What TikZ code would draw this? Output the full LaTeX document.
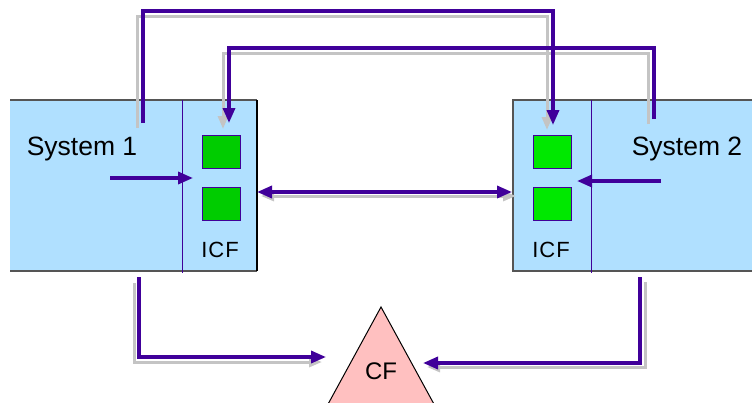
\documentclass[tikz,border=0pt]{standalone}
\usepackage{fontspec}
\setmainfont{Liberation Sans}
\usetikzlibrary{arrows.meta}
\definecolor{sysblue}{HTML}{B0E0FF}
\definecolor{arrowpurple}{HTML}{40009A}
\definecolor{shadowgray}{HTML}{C4C4C4}
\definecolor{greenL}{HTML}{00CC00}
\definecolor{greenR}{HTML}{00E800}
\definecolor{cfpink}{HTML}{FFC0C0}
\definecolor{edgegray}{HTML}{555555}
\begin{document}
\begin{tikzpicture}[x=1pt,y=-1pt,
  sysbox/.style={fill=sysblue, draw=none, inner sep=0pt, anchor=north west},
  sq/.style={draw=arrowpurple, line width=0.9pt, inner sep=0pt, minimum width=38pt, minimum height=33pt},
  divider/.style={draw=arrowpurple, line width=0.9pt},
  edge/.style={draw=edgegray, line width=1.1pt},
  flow/.style={draw=arrowpurple, line width=3.4pt, -{Triangle[length=15pt,width=12pt]}},
  flowboth/.style={draw=arrowpurple, line width=3.4pt, {Triangle[length=15pt,width=12pt]}-{Triangle[length=15pt,width=12pt]}},
  shade/.style={draw=shadowgray, line width=3pt, -{Triangle[length=13pt,width=10pt]}},
  shadeboth/.style={draw=shadowgray, line width=3pt, {Triangle[length=13pt,width=10pt]}-{Triangle[length=13pt,width=10pt]}},
  bigtext/.style={font=\fontsize{26.5}{30}\selectfont, inner sep=0pt},
  icftext/.style={font=\fontsize{22}{26}\selectfont, inner sep=0pt}
]
\useasboundingbox (0,0) rectangle (752,402);

% system boxes
\node[sysbox, minimum width=247pt, minimum height=171pt] (sys1) at (10,100) {};
\node[sysbox, minimum width=245pt, minimum height=171pt] (sys2) at (513,100) {};
\draw[edge] (10,100) -- (257,100);
\draw[edge] (10,271) -- (257,271);
\draw[draw=black, line width=1.1pt] (257,100) -- (257,271);
\draw[edge] (752,100) -- (513,100) -- (513,271) -- (752,271);
\draw[divider] (182,100) -- (182,273);
\draw[divider] (591,100) -- (591,273);

% ICF squares
\node[sq, fill=greenL] (l1) at (221.5,152) {};
\node[sq, fill=greenL] (l2) at (221.5,204) {};
\node[sq, fill=greenR] (r1) at (552.5,152) {};
\node[sq, fill=greenR] (r2) at (552.5,204) {};

% labels
\node[bigtext] (t1) at (82,149) {System 1};
\node[bigtext] (t2) at (687,149) {System 2};
\node[icftext] (i1) at (220,250) {I\kern1ptC\kern1ptF};
\node[icftext] (i2) at (551,250) {I\kern1ptC\kern1ptF};

% CF triangle
\fill[cfpink] (327,406) -- (381,307) -- (435,406) -- cycle;
\draw[black, line width=1pt] (327,406) -- (381,307) -- (435,406);
\node[font=\fontsize{24}{28}\selectfont, inner sep=0pt] (cf) at (381,371) {CF};

% coordinates
\coordinate (a1s) at (143,123); \coordinate (a1c) at (553,11); \coordinate (a1e) at (553,125);
\coordinate (g1s) at (137,128); \coordinate (g1c) at (547,16); \coordinate (g1e) at (547,130);
\coordinate (a2s) at (654,119); \coordinate (a2c) at (229,48); \coordinate (a2e) at (229,123);
\coordinate (g2s) at (648,124); \coordinate (g2c) at (223,53); \coordinate (g2e) at (223,129);
\coordinate (a3s) at (110,178); \coordinate (a3e) at (193,178);
\coordinate (a4s) at (661,181); \coordinate (a4e) at (577,181);
\coordinate (a5s) at (257,192); \coordinate (a5e) at (512,192);
\coordinate (g5s) at (261,196); \coordinate (g5e) at (516,196);
\coordinate (a6s) at (139,277); \coordinate (a6c) at (326,357);
\coordinate (g6s) at (134,283); \coordinate (g6c) at (322,362);
\coordinate (a7s) at (640,277); \coordinate (a7c) at (423,363);
\coordinate (g7s) at (645,282); \coordinate (g7c) at (427,367);

% shadows
\draw[shade] (g1s) |- (g1c) -- (g1e);
\draw[shade] (g2s) |- (g2c) -- (g2e);
\draw[shadeboth] (g5s) -- (g5e);
\draw[shade] (g6s) |- (g6c);
\draw[shade] (g7s) |- (g7c);

% main arrows
\draw[flow] (a1s) |- (a1c) -- (a1e);
\draw[flow] (a2s) |- (a2c) -- (a2e);
\draw[flow] (a3s) -- (a3e);
\draw[flow] (a4s) -- (a4e);
\draw[flowboth] (a5s) -- (a5e);
\draw[flow] (a6s) |- (a6c);
\draw[flow] (a7s) |- (a7c);
\end{tikzpicture}
\end{document}
